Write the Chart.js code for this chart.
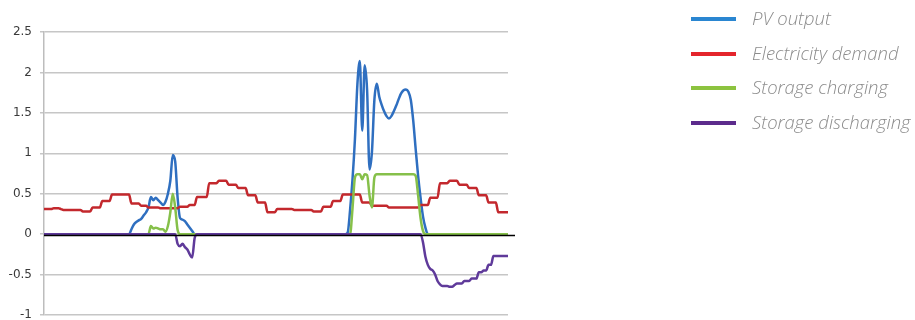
<!DOCTYPE html>
<html lang="en">
<head>
<meta charset="utf-8">
<title>PV output vs demand and storage</title>
<script src="https://cdn.jsdelivr.net/npm/chart.js@4.4.1/dist/chart.umd.min.js"></script>
<style>
  body { margin: 0; background: #ffffff; }
  .wrap { position: relative; width: 915px; height: 320px; overflow: hidden; }
  #legend { position: absolute; left: 0; top: 0; margin: 0; padding: 0; list-style: none; }
  #legend li { position: absolute; left: 691px; height: 0; white-space: nowrap; }
  #legend .swatch { position: absolute; left: 0; top: -2px; width: 45px; height: 4px; }
  #legend .name {
    position: absolute; left: 61px; top: -12px;
    font-family: 'Open Sans', 'Lato', sans-serif; font-style: italic; font-weight: 300;
    font-size: 18.5px; line-height: 22px; color: #8c8c8c;
  }
</style>
</head>
<body>
<div class="wrap">
  <canvas id="energyChart" width="915" height="320"></canvas>
  <ul id="legend"></ul>
</div>
<script>
// =========================================================
// Colours
// =========================================================
const blue = '#2f6fc0';
const red = '#c3282d';
const green = '#86c04a';
const purple = '#5f3a9a';
const legendColors = ['#2a86d1', '#e4252c', '#8cc33f', '#5c2b8c'];

// =========================================================
// Data: two days at 15-minute steps (192 readings per series)
// =========================================================
const seriesNames = ['PV output', 'Electricity demand', 'Storage charging', 'Storage discharging'];
const yTicks = [-1, -0.5, 0, 0.5, 1, 1.5, 2, 2.5];

const pvOutput = [
  0,0,0,0,0,0,0,0,0,0,0,0,0,0,0,0,0,0,0,0,0,0,0,0,
  0,0,0,0,0,0,0,0,0,0,0,0,0.06,0.12,0.15,0.17,0.19,0.23,0.27,0.33,0.46,0.42,0.45,0.42,
  0.39,0.36,0.40,0.50,0.66,0.98,0.90,0.45,0.20,0.18,0.16,0.12,0.08,0.04,0,0,0,0,0,0,0,0,0,0,
  0,0,0,0,0,0,0,0,0,0,0,0,0,0,0,0,0,0,0,0,0,0,0,0,
  0,0,0,0,0,0,0,0,0,0,0,0,0,0,0,0,0,0,0,0,0,0,0,0,
  0,0,0,0,0,0.02,0.30,0.68,1.18,1.85,2.14,1.28,2.09,1.78,0.80,1.02,1.66,1.86,1.70,1.60,1.52,1.46,1.43,1.46,
  1.52,1.59,1.67,1.74,1.78,1.79,1.76,1.66,1.40,1.05,0.72,0.45,0.22,0.08,0,0,0,0,0,0,0,0,0,0,
  0,0,0,0,0,0,0,0,0,0,0,0,0,0,0,0,0,0,0,0,0,0,0,0
];

const demand = [
  0.31,0.31,0.31,0.31,0.32,0.32,0.32,0.31,0.30,0.30,0.30,0.30,0.30,0.30,0.30,0.30,0.28,0.28,0.28,0.28,0.33,0.33,0.33,0.33,
  0.41,0.41,0.41,0.41,0.49,0.49,0.49,0.49,0.49,0.49,0.49,0.49,0.38,0.38,0.38,0.38,0.35,0.35,0.35,0.33,0.33,0.33,0.33,0.33,
  0.32,0.32,0.32,0.32,0.32,0.32,0.32,0.32,0.34,0.34,0.34,0.34,0.36,0.36,0.36,0.46,0.46,0.46,0.46,0.46,0.63,0.63,0.63,0.63,
  0.66,0.66,0.66,0.66,0.61,0.61,0.61,0.61,0.57,0.57,0.57,0.57,0.48,0.48,0.48,0.48,0.39,0.39,0.39,0.39,0.27,0.27,0.27,0.27,
  0.31,0.31,0.31,0.31,0.31,0.31,0.31,0.30,0.30,0.30,0.30,0.30,0.30,0.30,0.30,0.28,0.28,0.28,0.28,0.34,0.34,0.34,0.34,0.41,
  0.41,0.41,0.41,0.49,0.49,0.49,0.49,0.49,0.49,0.49,0.49,0.39,0.39,0.39,0.39,0.35,0.35,0.35,0.35,0.35,0.35,0.35,0.33,0.33,
  0.33,0.33,0.33,0.33,0.33,0.33,0.33,0.33,0.33,0.33,0.33,0.36,0.36,0.36,0.36,0.45,0.45,0.45,0.45,0.63,0.63,0.63,0.63,0.66,
  0.66,0.66,0.66,0.61,0.61,0.61,0.61,0.57,0.57,0.57,0.57,0.48,0.48,0.48,0.48,0.39,0.39,0.39,0.39,0.27,0.27,0.27,0.27,0.27
];

const charging = [
  0,0,0,0,0,0,0,0,0,0,0,0,0,0,0,0,0,0,0,0,0,0,0,0,
  0,0,0,0,0,0,0,0,0,0,0,0,0,0,0,0,0,0,0,0,0.10,0.07,0.08,0.07,
  0.06,0.06,0.03,0.10,0.27,0.50,0.33,0.05,0,0,0,0,0,0,0,0,0,0,0,0,0,0,0,0,
  0,0,0,0,0,0,0,0,0,0,0,0,0,0,0,0,0,0,0,0,0,0,0,0,
  0,0,0,0,0,0,0,0,0,0,0,0,0,0,0,0,0,0,0,0,0,0,0,0,
  0,0,0,0,0,0,0,0.32,0.70,0.74,0.74,0.68,0.74,0.73,0.48,0.33,0.70,0.74,0.74,0.74,0.74,0.74,0.74,0.74,
  0.74,0.74,0.74,0.74,0.74,0.74,0.74,0.74,0.74,0.72,0.48,0.20,0.04,0,0,0,0,0,0,0,0,0,0,0,
  0,0,0,0,0,0,0,0,0,0,0,0,0,0,0,0,0,0,0,0,0,0,0,0
];

const discharging = [
  0,0,0,0,0,0,0,0,0,0,0,0,0,0,0,0,0,0,0,0,0,0,0,0,
  0,0,0,0,0,0,0,0,0,0,0,0,0,0,0,0,0,0,0,0,0,0,0,0,
  0,0,0,0,0,0,0,-0.12,-0.15,-0.12,-0.16,-0.19,-0.25,-0.29,-0.05,0,0,0,0,0,0,0,0,0,
  0,0,0,0,0,0,0,0,0,0,0,0,0,0,0,0,0,0,0,0,0,0,0,0,
  0,0,0,0,0,0,0,0,0,0,0,0,0,0,0,0,0,0,0,0,0,0,0,0,
  0,0,0,0,0,0,0,0,0,0,0,0,0,0,0,0,0,0,0,0,0,0,0,0,
  0,0,0,0,0,0,0,0,0,0,0,0,-0.10,-0.28,-0.38,-0.43,-0.45,-0.50,-0.58,-0.62,-0.64,-0.64,-0.64,-0.65,
  -0.65,-0.63,-0.61,-0.61,-0.61,-0.58,-0.58,-0.58,-0.55,-0.55,-0.55,-0.47,-0.47,-0.45,-0.45,-0.38,-0.38,-0.27,-0.27,-0.27,-0.27,-0.27,-0.27,-0.27
];

// Quarter-hour time stamps for the category axis (hidden)
const timeLabels = pvOutput.map((_, i) => {
  const day = Math.floor(i / 96) + 1;
  const mins = (i % 96) * 15;
  return `D${day} ${String(Math.floor(mins / 60)).padStart(2, '0')}:${String(mins % 60).padStart(2, '0')}`;
});

// =========================================================
// Plugin: black zero axis drawn over the series
// =========================================================
const zeroAxisLine = {
  id: 'zeroAxisLine',
  afterDatasetsDraw(chart) {
    const { ctx, chartArea, scales } = chart;
    const y = Math.round(scales.y.getPixelForValue(0)) + 1.5;
    ctx.save();
    ctx.strokeStyle = '#000000';
    ctx.lineWidth = 1.5;
    ctx.beginPath();
    ctx.moveTo(chartArea.left, y);
    ctx.lineTo(chartArea.right + 7, y);
    ctx.stroke();
    ctx.restore();
  }
};

// =========================================================
// Chart
// =========================================================
const lineStyle = { borderWidth: 2.5, pointRadius: 0, fill: false, cubicInterpolationMode: 'monotone' };

new Chart(document.getElementById('energyChart'), {
  type: 'line',
  data: {
    labels: timeLabels,
    datasets: [
      { label: seriesNames[0], data: pvOutput, borderColor: blue, order: 3, ...lineStyle },
      { label: seriesNames[1], data: demand, borderColor: red, order: 2, ...lineStyle },
      { label: seriesNames[2], data: charging, borderColor: green, order: 1, ...lineStyle },
      { label: seriesNames[3], data: discharging, borderColor: purple, order: 0, ...lineStyle }
    ]
  },
  options: {
    responsive: false,
    animation: false,
    events: [],
    layout: { padding: { top: 32, right: 407, bottom: 5, left: 0 } },
    plugins: { legend: { display: false }, tooltip: { enabled: false } },
    scales: {
      x: { display: false },
      y: {
        min: yTicks[0],
        max: yTicks[yTicks.length - 1],
        afterFit(scale) {
          scale.width = 44;
          scale.paddingTop = 0;
          scale.paddingBottom = 0;
        },
        ticks: {
          stepSize: 0.5,
          padding: 8,
          color: '#3a3a3a',
          font: { family: "'DejaVu Sans', sans-serif", size: 12 },
          callback: v => String(v)
        },
        grid: { color: '#c6c6c6', lineWidth: 1.5, tickLength: 4 },
        border: { color: '#bdbdbd', width: 1.5 }
      }
    }
  },
  plugins: [zeroAxisLine]
});

// =========================================================
// Legend (to the right of the plot)
// =========================================================
const legendEl = document.getElementById('legend');
seriesNames.forEach((name, i) => {
  const li = document.createElement('li');
  li.style.top = `${19 + i * 34.5}px`;
  li.innerHTML = `<span class="swatch" style="background:${legendColors[i]}"></span><span class="name">${name}</span>`;
  legendEl.appendChild(li);
});
</script>
</body>
</html>
